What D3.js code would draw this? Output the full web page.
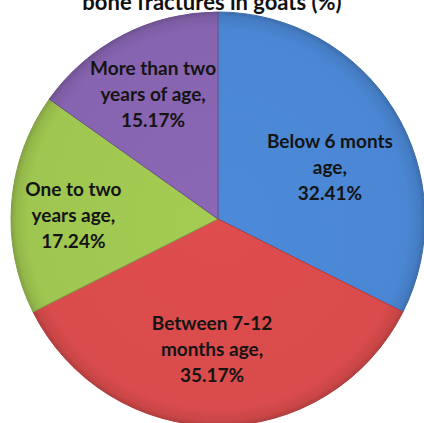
<!DOCTYPE html>
<html>
<head>
<meta charset="utf-8">
<script src="https://cdn.jsdelivr.net/npm/d3@7"></script>
<style>
  html, body { margin: 0; padding: 0; background: #fff; overflow: hidden; }
  svg { display: block; }
</style>
</head>
<body>
<svg id="chart" width="424" height="423"></svg>
<script>
// Age groups and their share of bone fractures in goats (%)
const categories = ["Below 6 monts age", "Between 7-12 months age", "One to two years age", "More than two years of age"];
const labelLines = [
  ["Below 6 monts", "age,"],
  ["Between 7-12", "months age,"],
  ["One to two", "years age,"],
  ["More than two", "years of age,"]
];
const values = [32.41, 35.17, 17.24, 15.17];
const colors = ["#4a86d3", "#d94b4c", "#9fc650", "#8764b0"];
const titleText = "bone fractures in goats (%)";

// layout
const W = 424, H = 423;
const cx = 218, cy = 219, R = 207;
const labelR = 135;
// Per-slice label nudges (best-fit placement inside each slice)
const labelNudge = [[-3, 20], [-6, -4], [-10, 7], [-3, -4]];

const svg = d3.select("#chart");
const defs = svg.append("defs");

// Bevelled look: each slice gets a radial gradient, lighter inside, darker at the rim
colors.forEach((c, i) => {
  const base = d3.color(c);
  const g = defs.append("radialGradient")
    .attr("id", "grad" + i)
    .attr("gradientUnits", "userSpaceOnUse")
    .attr("cx", 0).attr("cy", 0).attr("r", R);
  g.append("stop").attr("offset", "0%").attr("stop-color", base.brighter(0.08).formatHex());
  g.append("stop").attr("offset", "92%").attr("stop-color", base.formatHex());
  g.append("stop").attr("offset", "97.5%").attr("stop-color", base.darker(0.2).formatHex());
  g.append("stop").attr("offset", "100%").attr("stop-color", base.darker(0.55).formatHex());
});

const data = values.map((v, i) => ({ v, i }));
const pie = d3.pie().value(d => d.v).sort(null);
const arcs = pie(data);
const arc = d3.arc().innerRadius(0).outerRadius(R);
const labelArc = d3.arc().innerRadius(labelR).outerRadius(labelR);

const g = svg.append("g").attr("transform", `translate(${cx},${cy})`);

g.selectAll("path.slice")
  .data(arcs)
  .join("path")
  .attr("class", "slice")
  .attr("d", arc)
  .attr("fill", d => `url(#grad${d.data.i})`)
  .attr("stroke", d => d3.color(colors[d.data.i]).darker(0.6).formatHex())
  .attr("stroke-width", 1)
  .attr("stroke-linejoin", "round");

// Slice labels: category lines then the percentage
const lbl = g.selectAll("text.lbl")
  .data(arcs)
  .join("text")
  .attr("class", "lbl")
  .attr("text-anchor", "middle")
  .attr("font-family", "Lato, 'Open Sans', sans-serif")
  .attr("font-weight", "bold")
  .attr("font-size", 19)
  .attr("fill", "#141414")
  .attr("transform", d => {
    const [x, y] = labelArc.centroid(d);
    const n = labelNudge[d.data.i];
    return `translate(${x + n[0]},${y + n[1]})`;
  });

lbl.each(function (d) {
  const lines = labelLines[d.data.i].concat([d.data.v.toFixed(2) + "%"]);
  const t = d3.select(this);
  lines.forEach((s, k) => {
    t.append("tspan")
      .attr("x", 0)
      .attr("y", (k - 1) * 26 + 6)
      .text(s);
  });
});

// Title (only its second line falls inside the canvas)
svg.append("text")
  .attr("x", 212)
  .attr("y", 9.5)
  .attr("text-anchor", "middle")
  .attr("font-family", "Lato, 'Open Sans', sans-serif")
  .attr("font-weight", "bold")
  .attr("font-size", 22)
  .attr("fill", "#111")
  .text(titleText);
</script>
</body>
</html>
